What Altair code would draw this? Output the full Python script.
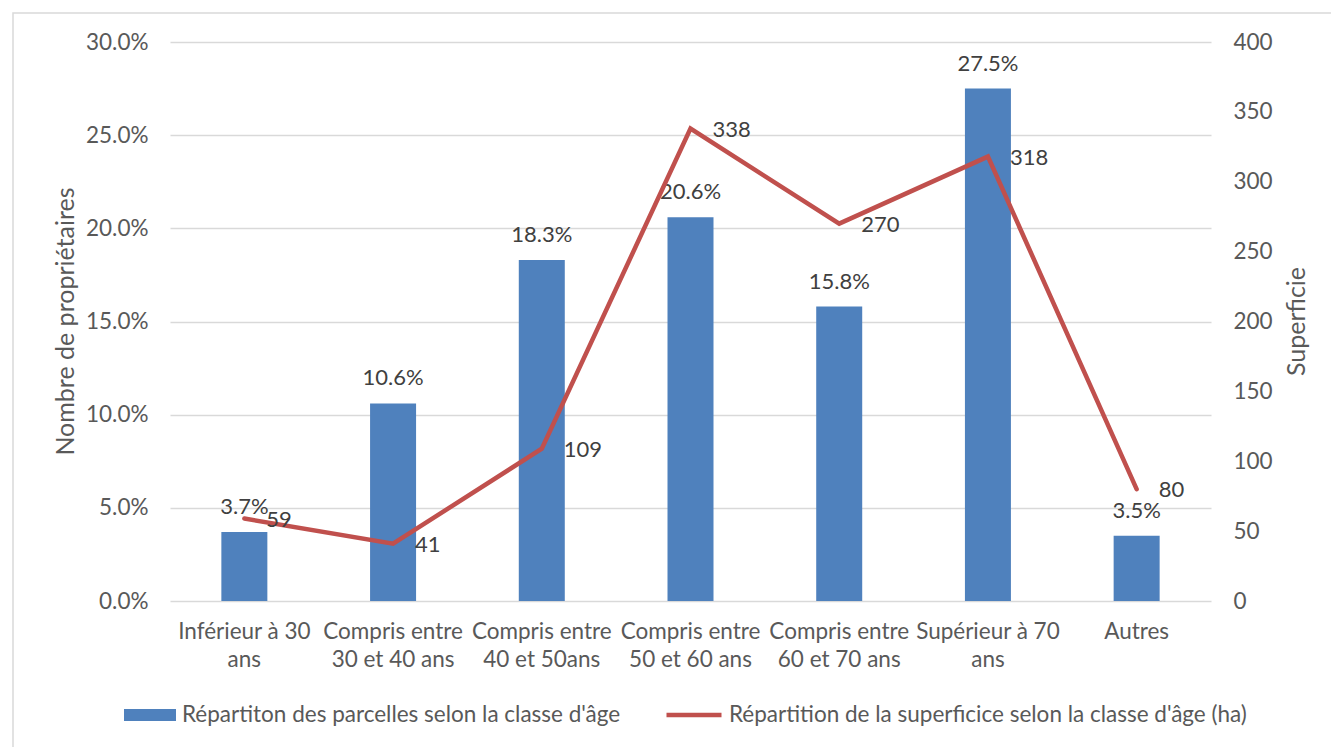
import altair as alt
import pandas as pd

# Age classes (line breaks give the two-line axis labels)
categories = [
    "Inférieur à 30\nans",
    "Compris entre\n30 et 40 ans",
    "Compris entre\n40 et 50ans",
    "Compris entre\n50 et 60 ans",
    "Compris entre\n60 et 70 ans",
    "Supérieur à 70\nans",
    "Autres",
]
# Share of parcels per age class (left axis)
parcel_share = [0.037, 0.106, 0.183, 0.206, 0.158, 0.275, 0.035]
# Surface per age class in hectares (right axis)
area_ha = [59, 41, 109, 338, 270, 318, 80]

left_ticks = [0.0, 0.05, 0.10, 0.15, 0.20, 0.25, 0.30]
right_ticks = [0, 50, 100, 150, 200, 250, 300, 350, 400]

bar_name = "Répartiton des parcelles selon la classe d'âge"
line_name = "Répartition de la superficice selon la classe d'âge (ha)"

BLUE = "#4F81BD"
RED = "#C0504D"
GRID = "#D9D9D9"
AXIS_TXT = "#595959"
DATA_TXT = "#404040"
FONT = "Lato"
TXT = 22.5
TITLE = 25

df = pd.DataFrame({
    "classe": categories,
    "part": parcel_share,
    "superficie": area_ha,
    "serie_barres": [bar_name] * len(categories),
    "serie_ligne": [line_name] * len(categories),
})

x_enc = alt.X(
    "classe:N",
    sort=categories,
    scale=alt.Scale(paddingInner=0, paddingOuter=0),
    axis=alt.Axis(
        title=None, labelAngle=0, labelExpr="split(datum.value, '\\n')",
        labelFont=FONT, labelFontSize=TXT, labelColor=AXIS_TXT,
        labelLineHeight=28, labelPadding=19, labelLimit=220,
        ticks=False, tickSize=0, domain=False, grid=False,
    ),
)

left_axis = alt.Axis(
    title="Nombre de propriétaires", format=".1%", values=left_ticks,
    grid=True, gridColor=GRID, gridWidth=1.3, ticks=False, tickSize=0, domain=False,
    labelFont=FONT, labelFontSize=TXT, labelColor=AXIS_TXT, labelPadding=22,
    titleFont=FONT, titleFontSize=TITLE, titleFontWeight="normal", titleColor=AXIS_TXT,
    titleAngle=270, titleAlign="center", titleBaseline="middle", titleX=-105, titleY=279,
)
right_axis = alt.Axis(
    title="Superficie", orient="right", values=right_ticks,
    grid=False, ticks=False, tickSize=0, domain=False,
    labelFont=FONT, labelFontSize=TXT, labelColor=AXIS_TXT, labelPadding=22,
    titleFont=FONT, titleFontSize=TITLE, titleFontWeight="normal", titleColor=AXIS_TXT,
    titleAngle=270, titleAlign="center", titleBaseline="middle", titleX=85, titleY=279,
)

y_left = alt.Y("part:Q", scale=alt.Scale(domain=[0, 0.30], nice=False), axis=left_axis)
y_right = alt.Y("superficie:Q", scale=alt.Scale(domain=[0, 400], nice=False), axis=right_axis)

base = alt.Chart(df)

bars = base.mark_bar(size=46).encode(
    x=x_enc,
    y=y_left,
    fill=alt.Fill(
        "serie_barres:N",
        scale=alt.Scale(range=[BLUE]),
        legend=alt.Legend(
            title=None, orient="none", legendX=-46, legendY=647, padding=0,
            symbolType="M-1,-0.23L1,-0.23L1,0.23L-1,0.23Z", symbolSize=2704,
            symbolStrokeWidth=0, labelOffset=6,
            labelFont=FONT, labelFontSize=TXT, labelColor=AXIS_TXT, labelLimit=700,
        ),
    ),
)
bar_labels = base.mark_text(
    font=FONT, fontSize=22, color=DATA_TXT, baseline="alphabetic", dy=-18
).encode(x=x_enc, y=y_left, text=alt.Text("part:Q", format=".1%"))

line = base.mark_line(strokeWidth=4.5, strokeJoin="miter", strokeCap="round").encode(
    x=x_enc,
    y=y_right,
    stroke=alt.Stroke(
        "serie_ligne:N",
        scale=alt.Scale(range=[RED]),
        legend=alt.Legend(
            title=None, orient="none", legendX=494, legendY=643, padding=0,
            symbolType="stroke", symbolSize=3025, symbolStrokeWidth=4.5,
            labelOffset=5,
            labelFont=FONT, labelFontSize=TXT, labelColor=AXIS_TXT, labelLimit=800,
        ),
    ),
)
line_labels = base.mark_text(
    font=FONT, fontSize=22, color=DATA_TXT, align="left", baseline="alphabetic", dx=22, dy=8
).encode(x=x_enc, y=y_right, text=alt.Text("superficie:Q", format="d"))

# thin frame around the whole chart area
frame = alt.Chart(alt.Data(values=[{}])).mark_rect(
    fill="transparent", stroke=GRID, strokeWidth=1.5
).encode(x=alt.value(-157), x2=alt.value(1200), y=alt.value(-29), y2=alt.value(720))

left_layer = alt.layer(bars, bar_labels)
right_layer = alt.layer(line, line_labels)

chart = (
    alt.layer(frame, left_layer, right_layer)
    .resolve_scale(y="independent", fill="independent", stroke="independent")
    .properties(
        width=1041, height=559,
        autosize=alt.AutoSizeParams(type="none"),
        padding={"left": 170, "top": 42, "right": 120, "bottom": 146},
        background="white",
    )
    .configure_view(stroke=None)
)

chart.save("out.html", embed_options={"renderer": "svg", "actions": False})
